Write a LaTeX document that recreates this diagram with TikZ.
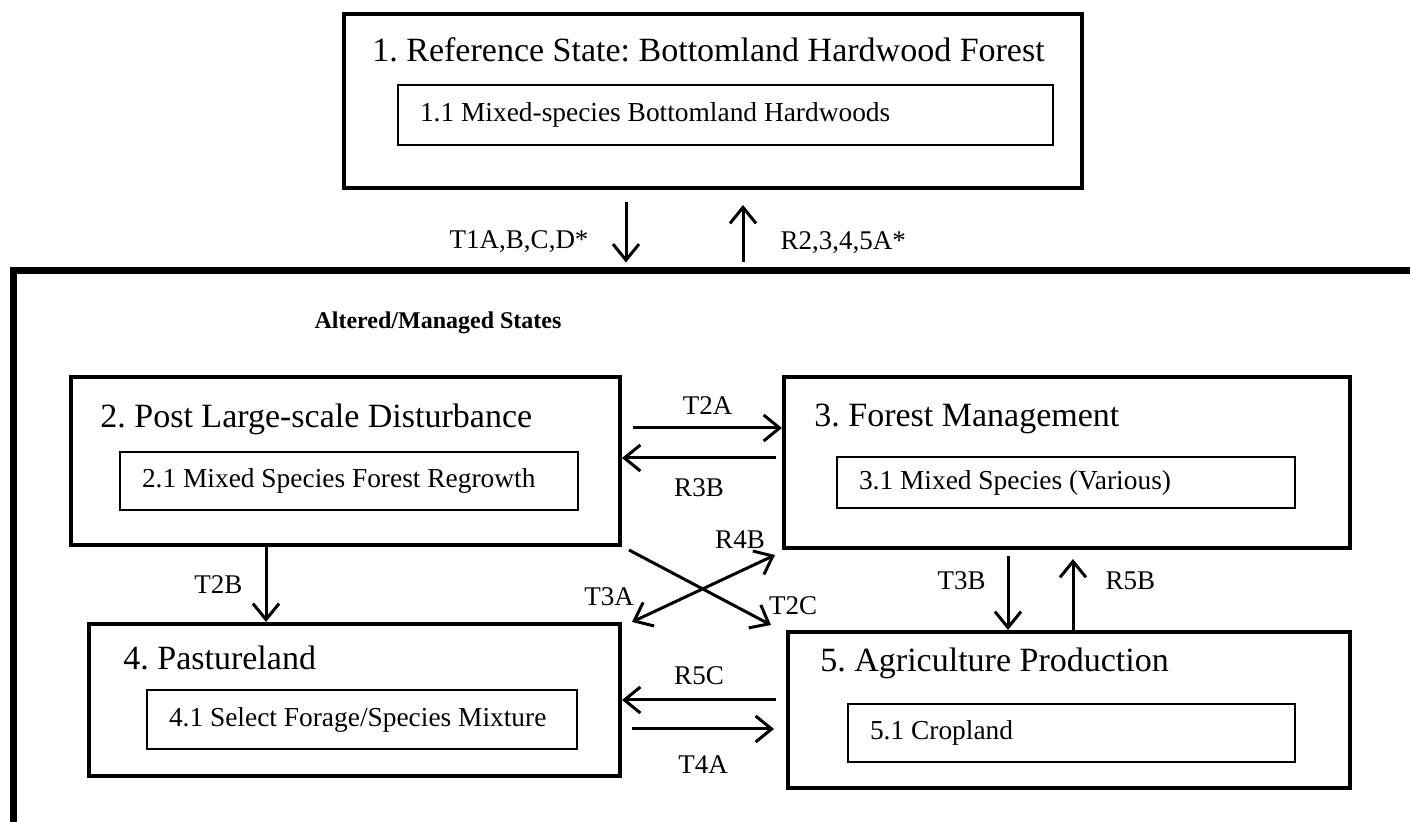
\documentclass[tikz,border=0pt]{standalone}
\usepackage{fontspec}
\setmainfont{Liberation Serif}
\usetikzlibrary{arrows.meta,positioning}
\frenchspacing

\tikzset{
  statebox/.style={draw, line width=2pt, inner sep=0pt},
  phasebox/.style={draw, line width=1.4pt, align=flush left, inner xsep=11pt, inner ysep=0pt, font=\fontsize{13.7}{16}\selectfont},
  statetitle/.style={anchor=base west, inner sep=0pt, font=\fontsize{17}{20}\selectfont},
  lbl/.style={inner sep=0pt, font=\fontsize{13.5}{16}\selectfont},
  arr/.style={-{Straight Barb[length=8pt,width=13pt]}, line width=1.5pt},
  dbl/.style={{Straight Barb[length=8pt,width=13pt]}-{Straight Barb[length=8pt,width=13pt]}, line width=1.5pt}
}

\begin{document}
\begin{tikzpicture}[x=0.5pt,y=-0.5pt]
  \useasboundingbox (0,0) rectangle (1410,822);
  \clip (0,0) rectangle (1410,822);
  \node[statebox, minimum width=369pt, minimum height=87pt] (s1) at (713,101) {};
  \node[statetitle] (t1) at (372,62) {1. Reference State: Bottomland Hardwood Forest};
  \node[phasebox, text width=305.5pt, minimum height=30pt] (p1) at (725.5,115) {1.1 Mixed-species Bottomland Hardwoods};

  \node[draw, line width=3.5pt, minimum width=701.5pt, minimum height=279.5pt] (alt) at (714.5,550.5) {};
  \node[font=\bfseries\fontsize{12}{14}\selectfont] (hdr) at (438,323) {Altered/Managed States};

  \node[statebox, minimum width=274.5pt, minimum height=84pt] (s2) at (345.5,461) {};
  \node[statetitle] (t2) at (100,428) {2. Post Large-scale Disturbance};
  \node[phasebox, text width=207pt, minimum height=29pt] (p2) at (349,481) {2.1 Mixed Species Forest Regrowth};

  \node[statebox, minimum width=283pt, minimum height=85.5pt] (s3) at (1067,462.5) {};
  \node[statetitle] (t3) at (814,427) {3. Forest Management};
  \node[phasebox, text width=207pt, minimum height=25.5pt] (p3) at (1066,482.5) {3.1 Mixed Species (Various)};

  \node[statebox, minimum width=265.5pt, minimum height=76pt] (s4) at (354.5,700) {};
  \node[statetitle] (t4) at (123,670) {4. Pastureland};
  \node[phasebox, text width=193pt, minimum height=29.5pt] (p4) at (362,719.5) {4.1 Select Forage/Species Mixture};

  \node[statebox, minimum width=281pt, minimum height=78pt] (s5) at (1069,710) {};
  \node[statetitle] (t5) at (820,672) {5. Agriculture Production};
  \node[phasebox, text width=201.5pt, minimum height=29pt] (p5) at (1071.5,733) {5.1 Cropland};

  \draw[arr, shorten >=2.5pt] ([xshift=-43.5pt,yshift=-6pt]s1.south) -- ([xshift=-43.5pt]s1.south |- alt.north) node[lbl, pos=0.6, left=18pt] {T1A,B,C,D*};
  \draw[arr, shorten <=2.5pt] ([xshift=15pt]s1.south |- alt.north) -- ([xshift=15pt,yshift=-7.5pt]s1.south) node[lbl, pos=0.4, right=18pt] {R2,3,4,5A*};

  \draw[arr] ([xshift=5.5pt,yshift=16.5pt]s2.east) -- ([yshift=16.5pt]s2.east -| s3.west) node[lbl, midway, above=6pt] {T2A};
  \draw[arr] ([xshift=-3pt,yshift=2.25pt]s3.west) -- ([yshift=2.25pt]s3.west -| s2.east) node[lbl, midway, below=9.5pt] {R3B};
  \draw[arr] ([xshift=-39.75pt]s2.south) -- ([xshift=-39.75pt]s2.south |- s4.north) node[lbl, midway, left=11pt] {T2B};
  \draw[arr] ([xshift=3.5pt,yshift=-1.5pt]s2.south east) -- ([xshift=-7.5pt,yshift=2.5pt]s5.north west) node[lbl, pos=1, xshift=11pt, yshift=9.5pt] {T2C};
  \draw[dbl] ([xshift=5pt]s4.north east) node[lbl, xshift=-11.5pt, yshift=12.5pt] {T3A} -- ([xshift=-3.5pt,yshift=-2.5pt]s3.south west) node[lbl, pos=1, xshift=-17.5pt, yshift=7.5pt] {R4B};
  \draw[arr] ([xshift=-29.5pt,yshift=-3pt]s3.south) -- ([xshift=-29.5pt]s3.south |- s5.north) node[lbl, pos=0.33, left=10.5pt] {T3B};
  \draw[arr] ([xshift=3pt]s3.south |- s5.north) -- ([xshift=3pt,yshift=-4.5pt]s3.south) node[lbl, pos=0.7, right=15.5pt] {R5B};
  \draw[arr] ([xshift=-5pt,yshift=5pt]s5.west) -- ([yshift=5pt]s5.west -| s4.east) node[lbl, midway, above=7pt] {R5C};
  \draw[arr] ([xshift=5pt,yshift=-14.5pt]s4.east) -- ([xshift=-6pt,yshift=-14.5pt]s4.east -| s5.west) node[lbl, midway, below=12.5pt] {T4A};
\end{tikzpicture}
\end{document}
